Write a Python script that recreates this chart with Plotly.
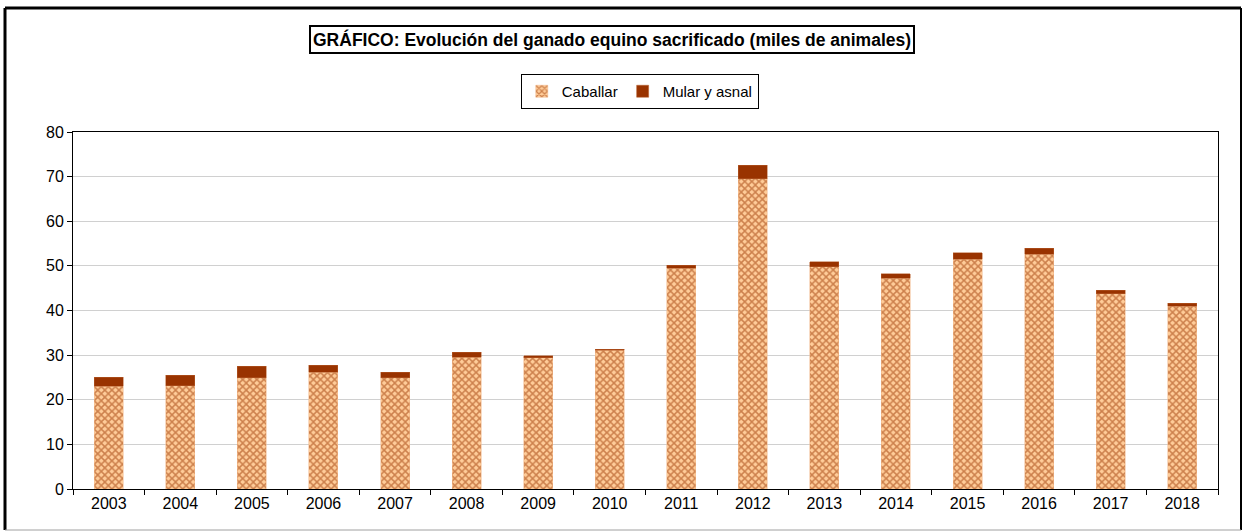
import plotly.graph_objects as go

years = ["2003", "2004", "2005", "2006", "2007", "2008", "2009", "2010",
         "2011", "2012", "2013", "2014", "2015", "2016", "2017", "2018"]
caballar = [23.0, 23.1, 24.9, 26.2, 24.9, 29.5, 29.4, 31.1,
            49.5, 69.5, 49.8, 47.2, 51.5, 52.6, 43.8, 40.9]
mular_asnal = [2.0, 2.4, 2.6, 1.5, 1.3, 1.1, 0.5, 0.2,
               0.6, 3.1, 1.1, 1.0, 1.4, 1.3, 0.7, 0.7]
y_ticks = [0, 10, 20, 30, 40, 50, 60, 70, 80]

fig = go.Figure()
fig.add_trace(go.Bar(
    x=years, y=caballar, name="Caballar",
    marker=dict(color="#FFCC99",
                line=dict(color="#F2B88A", width=0.5),
                pattern=dict(shape="x", bgcolor="#FFCC99", fgcolor="#993300",
                             size=5, solidity=0.5, fillmode="overlay")),
))
fig.add_trace(go.Bar(
    x=years, y=mular_asnal, name="Mular y asnal",
    marker=dict(color="#993300", line=dict(color="#B8602E", width=0.5)),
))

font_family = "Liberation Sans, Arial, sans-serif"

fig.update_layout(
    barmode="stack",
    bargap=0.595,
    width=1244, height=531,
    margin=dict(l=73, r=26, t=132, b=42),
    paper_bgcolor="white", plot_bgcolor="white",
    font=dict(family=font_family, size=16, color="black"),
    showlegend=True,
    legend=dict(orientation="h", x=0.495, xanchor="center", y=1.1625, yanchor="top",
                bordercolor="black", borderwidth=1, bgcolor="white",
                font=dict(size=15, family=font_family), traceorder="normal",
                itemwidth=30),
    xaxis=dict(type="category", tickson="boundaries", ticks="outside", ticklen=5,
               tickcolor="black", showline=True, linecolor="black", linewidth=1,
               mirror=True, showgrid=False, tickfont=dict(size=16)),
    yaxis=dict(range=[0, 80], tickvals=y_ticks, ticks="outside", ticklen=5,
               tickcolor="black", showline=True, linecolor="black", linewidth=1,
               mirror=True, showgrid=True, gridcolor="#D0D0D0", gridwidth=1,
               zeroline=False, tickfont=dict(size=16)),
)

fig.add_annotation(
    text="<b>GRÁFICO: Evolución del ganado equino sacrificado (miles de animales)</b>",
    xref="paper", yref="paper", x=0.4707, y=1.2605, xanchor="center", yanchor="middle",
    showarrow=False, font=dict(size=17.5, family=font_family, color="black"),
    bordercolor="black", borderwidth=2, borderpad=2, bgcolor="white",
)

# outer chart frame
x0, x1 = (5 - 73) / 1145, (1241 - 73) / 1145
y0, y1 = (489 - 530) / 357, (489 - 8) / 357
fig.add_shape(type="line", xref="paper", yref="paper", x0=x0, x1=x0, y0=y0, y1=y1,
              line=dict(color="black", width=3))
fig.add_shape(type="line", xref="paper", yref="paper", x0=x0, x1=x1, y0=y1, y1=y1,
              line=dict(color="black", width=3))
fig.add_shape(type="line", xref="paper", yref="paper", x0=x1, x1=x1, y0=y0, y1=y1,
              line=dict(color="black", width=2))
fig.add_shape(type="line", xref="paper", yref="paper", x0=x0, x1=x1, y0=y0, y1=y0,
              line=dict(color="#A0A0A0", width=1))

fig.write_html(
    "out.html",
    config={"displayModeBar": False},
    post_script="document.body.style.margin='0';document.body.style.padding='0';",
)
